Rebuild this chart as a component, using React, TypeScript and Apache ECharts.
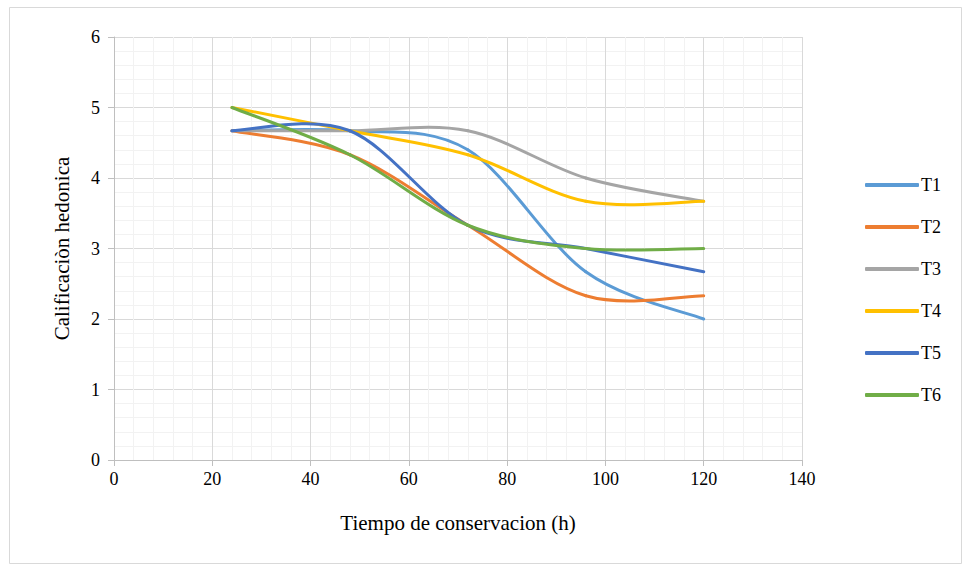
import React, { useEffect, useRef } from "react";
import * as echarts from "echarts";

const hours = [24, 48, 72, 96, 120];
const seriesNames = ["T1", "T2", "T3", "T4", "T5", "T6"];
const t1 = [4.67, 4.67, 4.4, 2.67, 2.0];
const t2 = [4.67, 4.33, 3.33, 2.33, 2.33];
const t3 = [4.67, 4.67, 4.67, 4.0, 3.67];
const t4 = [5.0, 4.67, 4.33, 3.67, 3.67];
const t5 = [4.67, 4.67, 3.33, 3.0, 2.67];
const t6 = [5.0, 4.33, 3.33, 3.0, 3.0];
const colors = ["#5B9BD5", "#ED7D31", "#A5A5A5", "#FFC000", "#4472C4", "#70AD47"];

const xTitle = "Tiempo de conservacion (h)";
const yTitle = "Calificaciòn hedonica";

export default function App() {
  const ref = useRef<HTMLDivElement>(null);
  useEffect(() => {
    if (!ref.current) return;
    const chart = echarts.init(ref.current, null, { renderer: "svg" });
    const all = [t1, t2, t3, t4, t5, t6];
    const font = "Liberation Serif";
    const makeRender = (vals: number[], color: string) => (params: any, api: any) => {
      const i = params.dataIndex;
      if (i >= hours.length - 1) return null;
      const pts = hours.map((h, j) => api.coord([h, vals[j]]));
      const p0 = pts[Math.max(i - 1, 0)];
      const p1 = pts[i];
      const p2 = pts[i + 1];
      const p3 = pts[Math.min(i + 2, pts.length - 1)];
      return {
        type: "bezierCurve",
        shape: {
          x1: p1[0],
          y1: p1[1],
          x2: p2[0],
          y2: p2[1],
          cpx1: p1[0] + (p2[0] - p0[0]) / 6,
          cpy1: p1[1] + (p2[1] - p0[1]) / 6,
          cpx2: p2[0] - (p3[0] - p1[0]) / 6,
          cpy2: p2[1] - (p3[1] - p1[1]) / 6,
        },
        style: { stroke: color, lineWidth: 3, fill: "none", lineCap: "round" },
      };
    };
    chart.setOption({
      animation: false,
      color: colors,
      textStyle: { fontFamily: font },
      graphic: [
        {
          type: "rect",
          shape: { x: 9.5, y: 7.5, width: 952, height: 556 },
          style: { fill: "none", stroke: "#D9D9D9", lineWidth: 1 },
        },
      ],
      grid: { left: 114, right: 163, top: 37, bottom: 109 },
      legend: {
        orient: "vertical",
        left: 860,
        top: 170,
        itemWidth: 54,
        itemHeight: 4,
        itemGap: 22,
        icon: "roundRect",
        textStyle: { fontFamily: font, fontSize: 18, color: "#000", lineHeight: 20, padding: [0, 0, 0, -3] },
        data: seriesNames,
      },
      xAxis: {
        type: "value",
        min: 0,
        max: 140,
        interval: 20,
        name: xTitle,
        nameLocation: "middle",
        nameGap: 52,
        nameTextStyle: { fontFamily: font, fontSize: 21, color: "#000" },
        axisLine: { show: true, lineStyle: { color: "#BFBFBF", width: 1 } },
        axisTick: { show: true, length: 6, lineStyle: { color: "#BFBFBF" } },
        axisLabel: { fontFamily: font, fontSize: 18, color: "#000", margin: 10 },
        splitLine: { show: true, lineStyle: { color: "#D9D9D9", width: 1 } },
        minorTick: { show: false, splitNumber: 5 },
        minorSplitLine: { show: true, lineStyle: { color: "#F2F2F2", width: 1 } },
      },
      yAxis: {
        type: "value",
        min: 0,
        max: 6,
        interval: 1,
        name: yTitle,
        nameLocation: "middle",
        nameGap: 42,
        nameTextStyle: { fontFamily: font, fontSize: 21, color: "#000" },
        axisLine: { show: true, lineStyle: { color: "#BFBFBF", width: 1 } },
        axisTick: { show: true, length: 6, lineStyle: { color: "#BFBFBF" } },
        axisLabel: { fontFamily: font, fontSize: 18, color: "#000", margin: 14 },
        splitLine: { show: true, lineStyle: { color: "#D9D9D9", width: 1 } },
        minorTick: { show: false, splitNumber: 5 },
        minorSplitLine: { show: true, lineStyle: { color: "#F2F2F2", width: 1 } },
      },
      series: seriesNames.map((n, i) => ({
        name: n,
        type: "custom",
        renderItem: makeRender(all[i], colors[i]),
        itemStyle: { color: colors[i] },
        encode: { x: 0, y: 1 },
        data: hours.map((h, j) => [h, all[i][j]]),
      })),
    });
    return () => chart.dispose();
  }, []);
  return (
    <div
      ref={ref}
      style={{ position: "absolute", left: 0, top: 0, width: 965, height: 569, background: "#fff" }}
    />
  );
}
